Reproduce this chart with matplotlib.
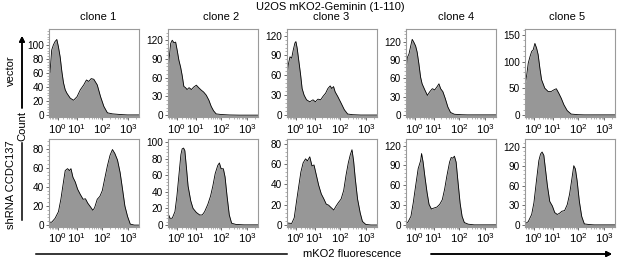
import numpy as np
import matplotlib
matplotlib.use("Agg")
import matplotlib.pyplot as plt
from matplotlib.lines import Line2D

plt.rcParams['font.family'] = ['Liberation Sans', 'DejaVu Sans']
plt.rcParams['mathtext.fontset'] = 'custom'
plt.rcParams['mathtext.rm'] = 'Liberation Sans'
plt.rcParams['mathtext.it'] = 'Liberation Sans:italic'

# ---------------- data (x in display channel units 0-1000, y = count) ----------------
TITLE = "U2OS mKO2-Geminin (1-110)"
CLONES = ["clone 1", "clone 2", "clone 3", "clone 4", "clone 5"]
ROWS = ["vector", "shRNA CCDC137"]
XTICK_POS = [95, 307, 590, 882]
XTICK_LABELS = ["$10^{0}$", "$10^{1}$", "$10^{2}$", "$10^{3}$"]

# vector row
V1_X = [0, 11, 30, 48, 67, 87, 104, 124, 143, 161, 180, 199, 236, 273, 311, 348, 386, 416, 442, 469, 498, 536, 573, 610, 649, 705, 798, 873, 1000]
V1_Y = [67, 61, 93, 100, 105, 108, 98, 83, 62, 46, 36, 31, 24, 21, 26, 36, 43, 50, 48, 52, 51, 43, 26, 12, 3, 1.5, 0.5, 0, 0]
V2_X = [0, 14, 30, 47, 66, 85, 102, 121, 140, 157, 176, 195, 212, 234, 260, 286, 315, 341, 370, 396, 425, 454, 480, 506, 535, 590, 681, 791, 1000]
V2_Y = [69, 93, 115, 120, 116, 117, 104, 88, 77, 64, 46, 44, 41, 44, 41, 45, 48, 44, 40, 37, 32, 24, 14, 7, 2, 1, 0.3, 0, 0]
V3_X = [0, 14, 33, 52, 69, 88, 99, 113, 132, 151, 168, 190, 217, 253, 289, 315, 344, 374, 399, 429, 454, 480, 498, 517, 535, 564, 601, 637, 674, 729, 821, 1000]
V3_Y = [58, 76, 88, 86, 98, 109, 111, 101, 81, 61, 40, 30, 23, 20, 23, 20, 24, 23, 28, 33, 40, 44, 40, 43, 35, 28, 18, 8, 1.5, 0.5, 0, 0]
V4_X = [0, 14, 33, 52, 69, 88, 107, 124, 143, 162, 179, 209, 238, 264, 293, 319, 344, 366, 385, 410, 436, 465, 495, 538, 612, 681, 1000]
V4_Y = [68, 94, 100, 113, 124, 119, 113, 103, 84, 62, 51, 41, 32, 38, 43, 41, 46, 51, 43, 38, 27, 13, 4, 1, 0.3, 0, 0]
V5_X = [0, 19, 36, 55, 74, 91, 110, 129, 146, 165, 184, 220, 256, 293, 322, 348, 374, 403, 432, 469, 513, 586, 659, 1000]
V5_Y = [56, 75, 97, 109, 119, 122, 134, 125, 113, 88, 66, 50, 44, 44, 47, 49, 41, 31, 19, 8, 1.5, 0.4, 0, 0]

# shRNA CCDC137 row
S1_X = [0, 30, 67, 105, 132, 154, 180, 206, 228, 244, 266, 292, 318, 348, 379, 405, 430, 461, 487, 506, 536, 565, 592, 618, 649, 678, 705, 731, 761, 790, 817, 843, 873, 903, 948, 1000]
S1_Y = [3, 3, 7, 14, 27, 41, 57, 59, 57, 59, 50, 45, 37.5, 32, 27, 27.5, 23, 19, 15.5, 18, 27, 30, 36, 48, 62, 73, 79, 75, 68, 55, 37.5, 20, 9, 1, 0, 0]
S2_X = [0, 22, 47, 77, 99, 121, 143, 157, 173, 187, 206, 223, 253, 278, 315, 352, 381, 407, 443, 473, 498, 524, 553, 571, 590, 615, 634, 656, 681, 707, 755, 846, 1000]
S2_Y = [14, 8, 8, 16, 35, 60, 85, 92, 93, 90, 68, 47, 29, 20, 15, 12, 12, 16, 25, 35, 47, 62, 72, 75, 68, 68, 58, 35, 12, 2, 0.5, 0, 0]
S3_X = [0, 52, 80, 107, 132, 154, 179, 206, 227, 253, 278, 300, 326, 352, 381, 410, 436, 462, 491, 520, 546, 571, 601, 630, 656, 681, 703, 722, 740, 758, 784, 813, 838, 876, 934, 1000]
S3_Y = [2, 1.5, 7, 24, 39, 52, 61, 65, 63, 67, 58, 59, 49, 39, 30.5, 25.5, 20.5, 19.5, 17, 14.7, 18.7, 22, 25.5, 34, 49, 61, 69, 74, 63, 46, 25.5, 12, 3.5, 0.5, 0, 0]
S4_X = [0, 25, 55, 80, 107, 135, 162, 173, 190, 209, 234, 256, 282, 311, 344, 374, 403, 429, 454, 484, 502, 520, 538, 557, 575, 601, 623, 648, 692, 758, 1000]
S4_Y = [1, 5, 13, 33, 59, 85, 97, 108, 95, 74, 49, 31, 24, 25.5, 27, 31, 38, 54, 74, 95, 102, 101, 104, 95, 69, 33, 13, 3.5, 1, 0, 0]
S5_X = [0, 36, 74, 99, 129, 154, 173, 190, 209, 227, 249, 275, 304, 330, 359, 385, 410, 440, 469, 495, 520, 542, 560, 579, 604, 630, 659, 714, 769, 1000]
S5_Y = [1.5, 5, 16, 34, 70, 99, 109, 112, 107, 86, 60, 36, 29, 19, 16, 18, 21, 22, 31, 47, 70, 91, 86, 68, 36, 13, 1.5, 0.5, 0, 0]

TOP_X = [V1_X, V2_X, V3_X, V4_X, V5_X]
TOP_Y = [V1_Y, V2_Y, V3_Y, V4_Y, V5_Y]
BOT_X = [S1_X, S2_X, S3_X, S4_X, S5_X]
BOT_Y = [S1_Y, S2_Y, S3_Y, S4_Y, S5_Y]

TOP_YTICKS = [[0, 20, 40, 60, 80, 100], [0, 30, 60, 90, 120], [0, 30, 60, 90, 120],
              [0, 30, 60, 90, 120], [0, 50, 100, 150]]
BOT_YTICKS = [[0, 20, 40, 60, 80], [0, 20, 40, 60, 80, 100], [0, 20, 40, 60, 80],
              [0, 30, 60, 90, 120], [0, 30, 60, 90, 120]]
TOP_YLIM = [(-3, 123), (-3, 138), (-3, 130), (-3.5, 141), (-4, 161)]
BOT_YLIM = [(-1.5, 90), (-2, 104), (-1.5, 84.5), (-2.5, 130), (-2.5, 132)]

# ---------------- figure ----------------
W, H = 617, 260
fig = plt.figure(figsize=(W / 100, H / 100), dpi=100)

LEFTS = [49, 168, 287, 406, 525]
PW = 90
ROW_BOX = [(29, 117), (139, 226.5)]

FILL = '#979797'
SPINE = '#9a9a9a'

# minor x tick positions (log subdivisions between decades)
minor_x = []
for a, b in zip(XTICK_POS[:-1], XTICK_POS[1:]):
    for k in range(2, 10):
        minor_x.append(a + (b - a) * np.log10(k))
for k in range(2, 10):
    v = XTICK_POS[0] - (XTICK_POS[1] - XTICK_POS[0]) * (1 - np.log10(k))
    if v > 0:
        minor_x.append(v)
for k in range(2, 4):
    minor_x.append(XTICK_POS[-1] + (XTICK_POS[-1] - XTICK_POS[-2]) * np.log10(k))


def make_panel(rect, xs, ys, yticks, ylim):
    ax = fig.add_axes(rect)
    ax.fill_between(xs, ys, ylim[0], color=FILL, lw=0)
    ax.plot(xs, ys, color='black', lw=0.6)
    ax.set_xlim(0, 1000)
    ax.set_ylim(*ylim)
    ax.set_xticks(XTICK_POS)
    ax.set_xticklabels(XTICK_LABELS)
    ax.set_xticks([m for m in minor_x if 0 < m < 1000], minor=True)
    ax.set_yticks(yticks)
    step = yticks[1] - yticks[0]
    ax.set_yticks(np.arange(0, ylim[1], step / 5.0), minor=True)
    ax.tick_params(axis='both', which='major', direction='out', length=2.5, width=0.6,
                   color='#555555', pad=1)
    ax.tick_params(axis='y', which='major', labelsize=7.2)
    ax.tick_params(axis='x', which='major', labelsize=8.2, pad=1.0)
    ax.tick_params(axis='both', which='minor', direction='out', length=1.2, width=0.4,
                   color='#777777')
    for s in ax.spines.values():
        s.set_color(SPINE)
        s.set_linewidth(0.8)
    return ax


for r, (xs_list, ys_list, yt_list, yl_list) in enumerate(
        [(TOP_X, TOP_Y, TOP_YTICKS, TOP_YLIM), (BOT_X, BOT_Y, BOT_YTICKS, BOT_YLIM)]):
    top, bot = ROW_BOX[r]
    for i in range(5):
        rect = [LEFTS[i] / W, 1 - bot / H, PW / W, (bot - top) / H]
        make_panel(rect, xs_list[i], ys_list[i], yt_list[i], yl_list[i])

# titles
fig.text(330 / W, 1 - 7 / H, TITLE, ha='center', va='center', fontsize=8)
CLONE_XC = [98, 221, 331, 456, 567]
for name, xc in zip(CLONES, CLONE_XC):
    fig.text(xc / W, 1 - 17 / H, name, ha='center', va='center', fontsize=8)

# row labels
fig.text(11 / W, 1 - 71 / H, ROWS[0], ha='center', va='center', rotation=90, fontsize=8)
fig.text(11 / W, 1 - 185 / H, ROWS[1], ha='center', va='center', rotation=90, fontsize=8)

# Count axis label with arrow
fig.text(22 / W, 1 - 126 / H, "Count", ha='center', va='center', rotation=90, fontsize=8)
fig.add_artist(Line2D([22 / W, 22 / W], [1 - 143 / H, 1 - 220 / H], color='black', lw=1.1))
fig.add_artist(plt.annotate('', xy=(22 / W, 1 - 36 / H), xytext=(22 / W, 1 - 108 / H),
                            xycoords='figure fraction', textcoords='figure fraction',
                            arrowprops=dict(arrowstyle='-|>', color='black', lw=1.1,
                                            mutation_scale=8, shrinkA=0, shrinkB=0)))

# x axis label with arrow
fig.text(352 / W, 1 - 254 / H, "mKO2 fluorescence", ha='center', va='center', fontsize=8)
fig.add_artist(Line2D([36 / W, 287 / W], [1 - 254 / H, 1 - 254 / H], color='black', lw=1.1))
fig.add_artist(plt.annotate('', xy=(612 / W, 1 - 254 / H), xytext=(431 / W, 1 - 254 / H),
                            xycoords='figure fraction', textcoords='figure fraction',
                            arrowprops=dict(arrowstyle='-|>', color='black', lw=1.1,
                                            mutation_scale=8, shrinkA=0, shrinkB=0)))

fig.savefig('out.png', dpi=100)
